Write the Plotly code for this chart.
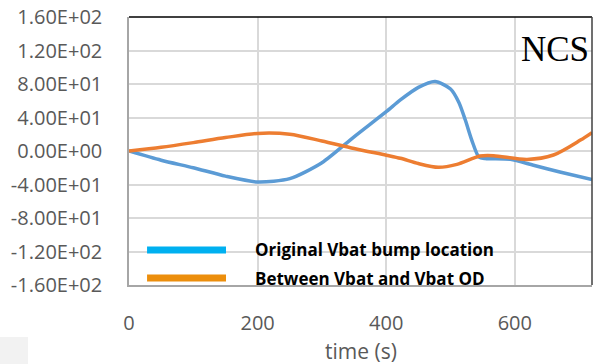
import plotly.graph_objects as go

# Data
blue_x = [0, 50, 100, 150, 200, 250, 300, 350, 400, 422, 450, 476, 500, 513, 523, 533, 544, 554, 593, 629, 670, 720]
blue_y = [0, -11, -20, -30, -37, -33, -14, 17, 47, 61, 76, 83, 74, 58, 37, 13, -7, -9, -10, -17, -25, -34]

orange_x = [0, 50, 100, 150, 200, 250, 300, 350, 400, 422, 450, 481, 510, 546, 567, 619, 660, 702, 720]
orange_y = [0, 4.4, 10, 16, 21, 20, 12, 3, -5, -8.7, -15, -19.5, -16, -6, -5.6, -10, -4.8, 13, 22]

series_names = ["Original Vbat bump location", "Between Vbat and Vbat OD"]
y_tickvals = [160, 120, 80, 40, 0, -40, -80, -120, -160]
y_ticktext = ["1.60E+02", "1.20E+02", "8.00E+01", "4.00E+01", "0.00E+00",
              "-4.00E+01", "-8.00E+01", "-1.20E+02", "-1.60E+02"]
x_tickvals = [0, 200, 400, 600]

fig = go.Figure()
fig.add_trace(go.Scatter(x=blue_x, y=blue_y, mode="lines", name=series_names[0],
                         line=dict(color="#5B9BD5", width=3.5, shape="spline", smoothing=0.7)))
fig.add_trace(go.Scatter(x=orange_x, y=orange_y, mode="lines", name=series_names[1],
                         line=dict(color="#ED7D31", width=3.5, shape="spline", smoothing=0.8)))

tickfont = dict(family="Open Sans", size=20, color="#595959")
fig.update_layout(
    width=596, height=364,
    margin=dict(l=129, r=4, t=17, b=79),
    paper_bgcolor="white", plot_bgcolor="white",
    showlegend=False,
    xaxis=dict(range=[0, 720], tickvals=x_tickvals, showgrid=True, gridcolor="#D9D9D9",
               gridwidth=1.5, zeroline=False, showline=True, linecolor="#A6A6A6", linewidth=1.5,
               ticks="", tickfont=tickfont, ticklabelstandoff=19),
    yaxis=dict(range=[-160, 160], tickvals=y_tickvals, ticktext=y_ticktext, showgrid=True,
               gridcolor="#D9D9D9", gridwidth=1.5, zeroline=False, showline=True,
               linecolor="#A6A6A6", linewidth=1.5, ticks="", tickfont=tickfont,
               ticklabelstandoff=21),
)

# borders top/right
fig.add_shape(type="line", xref="paper", yref="paper", x0=0, x1=1, y0=1, y1=1,
              line=dict(color="black", width=1.5))
fig.add_shape(type="line", xref="paper", yref="paper", x0=1, x1=1, y0=0, y1=1,
              line=dict(color="#404040", width=1.5))

# legend (manual)
leg_colors = ["#00B0F0", "#EC8E0C"]
leg_y = [0.1306, 0.0261]
for name, c, yy in zip(series_names, leg_colors, leg_y):
    fig.add_shape(type="line", xref="paper", yref="paper", x0=0.039, x1=0.2095, y0=yy, y1=yy,
                  line=dict(color=c, width=7))
    fig.add_annotation(xref="paper", yref="paper", x=0.268, y=yy, text="<b>" + name + "</b>",
                       showarrow=False, xanchor="left", yanchor="middle",
                       font=dict(family="Open Sans", size=17, color="black"))

fig.add_annotation(xref="paper", yref="paper", x=0.5, y=-0.245, text="time (s)",
                   showarrow=False, xanchor="center", yanchor="middle",
                   font=dict(family="Open Sans", size=21, color="#595959"))
fig.add_annotation(xref="paper", yref="paper", x=0.997, y=0.96, text="NCS",
                   showarrow=False, xanchor="right", yanchor="top",
                   font=dict(family="Liberation Serif", size=35, color="black"))

# grey box bottom-left
fig.add_shape(type="rect", xref="paper", yref="paper", x0=-129/463, x1=-101/463,
              y0=-79/268, y1=-52/268, line=dict(width=0), fillcolor="#F2F2F2")

fig.write_html("out.html")
